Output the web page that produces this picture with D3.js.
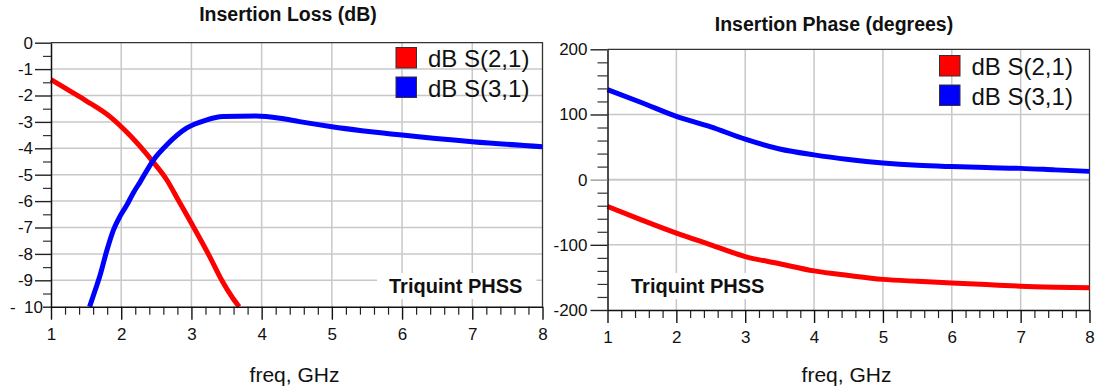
<!DOCTYPE html>
<html><head><meta charset="utf-8">
<script src="https://cdn.jsdelivr.net/npm/d3@7"></script>
<style>
html,body{margin:0;padding:0;background:#fff;}
svg{display:block;font-family:"Liberation Sans",Arial,sans-serif;}
</style></head>
<body>
<svg id="c" width="1097" height="391"></svg>
<script>
// ---------- data ----------
const lossTitle = "Insertion Loss (dB)";
const phaseTitle = "Insertion Phase (degrees)";
const xLabel = "freq, GHz";
const noteText = "Triquint PHSS";
const seriesNames = ["dB S(2,1)", "dB S(3,1)"];
const seriesColors = ["#ff0000", "#0000ff"];

const freqTicks = [1, 2, 3, 4, 5, 6, 7, 8];
const lossTicks = [0, -1, -2, -3, -4, -5, -6, -7, -8, -9, -10];
const phaseTicks = [200, 100, 0, -100, -200];

// Insertion loss (dB) S(2,1)
const lossS21Freq = [1.0, 1.25, 1.5, 1.84, 2.12, 2.43, 2.65, 2.81, 3.0, 3.26, 3.43, 3.59, 3.68];
const lossS21 =     [-1.4, -1.8, -2.2, -2.8, -3.5, -4.44, -5.2, -5.95, -6.84, -8.1, -8.99, -9.68, -10.0];
// Insertion loss (dB) S(3,1)
const lossS31Freq = [1.55, 1.63, 1.7, 1.79, 1.89, 1.98, 2.08, 2.17, 2.27, 2.46, 2.65, 2.93, 3.21, 3.45, 3.92, 4.26, 4.54, 5.0, 6.0, 7.0, 8.0];
const lossS31 =     [-10.0, -9.37, -8.8, -7.92, -7.09, -6.59, -6.15, -5.7, -5.27, -4.44, -3.87, -3.24, -2.93, -2.8, -2.78, -2.86, -2.99, -3.18, -3.5, -3.75, -3.94];

// Insertion phase (degrees)
const phaseFreq = [1.0, 1.5, 2.0, 2.5, 3.0, 3.5, 4.0, 4.5, 5.0, 5.5, 6.0, 6.5, 7.0, 7.5, 8.0];
const phaseS21 =  [-41, -62, -82, -100, -118, -129, -140, -147, -153, -156, -158.5, -161, -163.5, -165, -166];
const phaseS31 =  [138, 118, 97, 81, 62, 47, 38, 31, 25.6, 22, 20, 18.5, 17.3, 15, 12.7];

// ---------- drawing ----------
const svg = d3.select("#c");
const gridColor = "#c8c8c8";

function drawPanel(o) {
  const g = svg.append("g");
  const x = o.x, y = o.y;
  const [x0, x1] = x.range();
  const [y0, y1] = y.range(); // y0 bottom, y1 top

  // gridlines
  g.selectAll(".vg").data(freqTicks.slice(1, -1)).join("line")
    .attr("x1", d => x(d)).attr("x2", d => x(d)).attr("y1", y1).attr("y2", y0)
    .attr("stroke", gridColor).attr("stroke-width", 1.5);
  g.selectAll(".hg").data(o.yTicks.slice(1, -1)).join("line")
    .attr("x1", x0).attr("x2", x1).attr("y1", d => y(d)).attr("y2", d => y(d))
    .attr("stroke", gridColor).attr("stroke-width", d => d === 0 && o.zeroGray ? 2 : 1.5);

  // border top / right
  g.append("path").attr("d", `M${x0},${y1}H${x1}V${y0}`)
    .attr("fill", "none").attr("stroke", "#333").attr("stroke-width", 1.3);

  // note with white background
  const nt = g.append("text").attr("x", o.noteX).attr("y", o.noteY)
    .attr("font-size", 20).attr("font-weight", "bold").attr("fill", "#111").text(noteText);
  if (o.noteBg) {
    const bb = nt.node().getBBox();
    g.insert("rect", "text").attr("x", bb.x - 12).attr("y", bb.y - 2)
      .attr("width", bb.width + 26).attr("height", bb.height + 4).attr("fill", "#fff");
  }

  // lines
  const line = d3.line().x(d => x(d[0])).y(d => y(d[1])).curve(d3.curveMonotoneX);
  o.series.forEach((s, i) => {
    const pts = s.f.map((f, k) => [f, s.v[k]]);
    g.append("path").attr("d", line(pts)).attr("fill", "none")
      .attr("stroke", seriesColors[i]).attr("stroke-width", 5)
      .attr("stroke-linejoin", "round").attr("stroke-linecap", "butt");
  });

  // x axis minor ticks
  const minorX = d3.range(1, 8.0001, 0.2).filter(v => Math.abs(v - Math.round(v)) > 1e-6);
  g.append("g").attr("transform", `translate(0,${y0})`)
    .call(d3.axisBottom(x).tickValues(minorX).tickSize(8).tickFormat(""))
    .call(a => { a.select(".domain").remove(); a.selectAll("line").attr("stroke", "#222").attr("stroke-width", 1.2); });
  // x axis major
  g.append("g").attr("transform", `translate(0,${y0})`)
    .call(d3.axisBottom(x).tickValues(freqTicks).tickSize(13).tickSizeOuter(0).tickPadding(8).tickFormat(d3.format("d")))
    .call(a => {
      a.select(".domain").attr("stroke", "#111").attr("stroke-width", 1.5);
      a.selectAll("line").attr("stroke", "#111").attr("stroke-width", 1.4);
      a.selectAll("text").attr("font-size", 17).attr("fill", "#111").attr("font-family", "Liberation Sans, Arial, sans-serif");
    });

  // y axis minor
  g.append("g").attr("transform", `translate(${x0},0)`)
    .call(d3.axisLeft(y).tickValues(o.yMinor).tickSize(o.minorLen).tickFormat(""))
    .call(a => { a.select(".domain").remove(); a.selectAll("line").attr("stroke", "#333").attr("stroke-width", 1.2); });
  // y axis major
  g.append("g").attr("transform", `translate(${x0},0)`)
    .call(d3.axisLeft(y).tickValues(o.yTicks).tickSize(o.majorLen).tickSizeOuter(0).tickPadding(o.pad).tickFormat(d3.format("d")))
    .call(a => {
      a.select(".domain").attr("stroke", "#111").attr("stroke-width", 1.5);
      a.selectAll("line").attr("stroke", d => (d === 0 && o.zeroGray) ? "#999" : "#222").attr("stroke-width", 1.4);
      a.selectAll("text").attr("font-size", 17).attr("fill", "#111")
        .attr("font-family", "Liberation Sans, Arial, sans-serif")
        .text(d => d < 0 ? "-" + Math.abs(d) : String(d));
      if (o.squeezeMin) {
        const t = a.selectAll(".tick").filter(d => d === o.yTicks[o.yTicks.length - 1]);
        t.select("line").attr("x2", -8);
        t.select("text").attr("x", -8).text("-\u2002" + Math.abs(o.yTicks[o.yTicks.length - 1]));
      }
    });

  // title
  g.append("text").attr("x", o.titleX).attr("y", o.titleY).attr("text-anchor", "middle")
    .attr("font-size", 19.5).attr("font-weight", "bold").attr("fill", "#111").text(o.title);
  // x label
  g.append("text").attr("x", o.xlabX).attr("y", 382).attr("text-anchor", "middle")
    .attr("font-size", 21).attr("fill", "#111").text(xLabel);

  // legend
  seriesNames.forEach((n, i) => {
    g.append("rect").attr("x", o.legX).attr("y", o.legY + i * 29.5).attr("width", 20.5).attr("height", 20.5)
      .attr("fill", seriesColors[i]).attr("stroke", "#333").attr("stroke-width", 1);
    g.append("text").attr("x", o.legX + 32).attr("y", o.legY + 19.5 + i * 29.5)
      .attr("font-size", 24).attr("fill", "#111").text(n);
  });
}

const xL = d3.scaleLinear().domain([1, 8]).range([51, 542.5]);
const yL = d3.scaleLinear().domain([-10, 0]).range([306.7, 42.7]);
drawPanel({
  x: xL, y: yL, yTicks: lossTicks, pad: 2, squeezeMin: true,
  yMinor: d3.range(-9.5, 0, 1), minorLen: 8, majorLen: 16,
  series: [{f: lossS21Freq, v: lossS21}, {f: lossS31Freq, v: lossS31}],
  title: lossTitle, titleX: 288, titleY: 21, xlabX: 294.5,
  legX: 396, legY: 47.5, noteX: 389, noteY: 293, noteBg: true
});

const xR = d3.scaleLinear().domain([1, 8]).range([607.5, 1089.5]);
const yR = d3.scaleLinear().domain([-200, 200]).range([310, 49.3]);
drawPanel({
  x: xR, y: yR, yTicks: phaseTicks, pad: 3, zeroGray: true,
  yMinor: d3.range(-180, 200, 20).filter(v => v % 100 !== 0), minorLen: 10, majorLen: 17,
  series: [{f: phaseFreq, v: phaseS21}, {f: phaseFreq, v: phaseS31}],
  title: phaseTitle, titleX: 834, titleY: 31, xlabX: 846.5,
  legX: 939.5, legY: 55.5, noteX: 631, noteY: 293, noteBg: true
});
</script>
</body></html>
